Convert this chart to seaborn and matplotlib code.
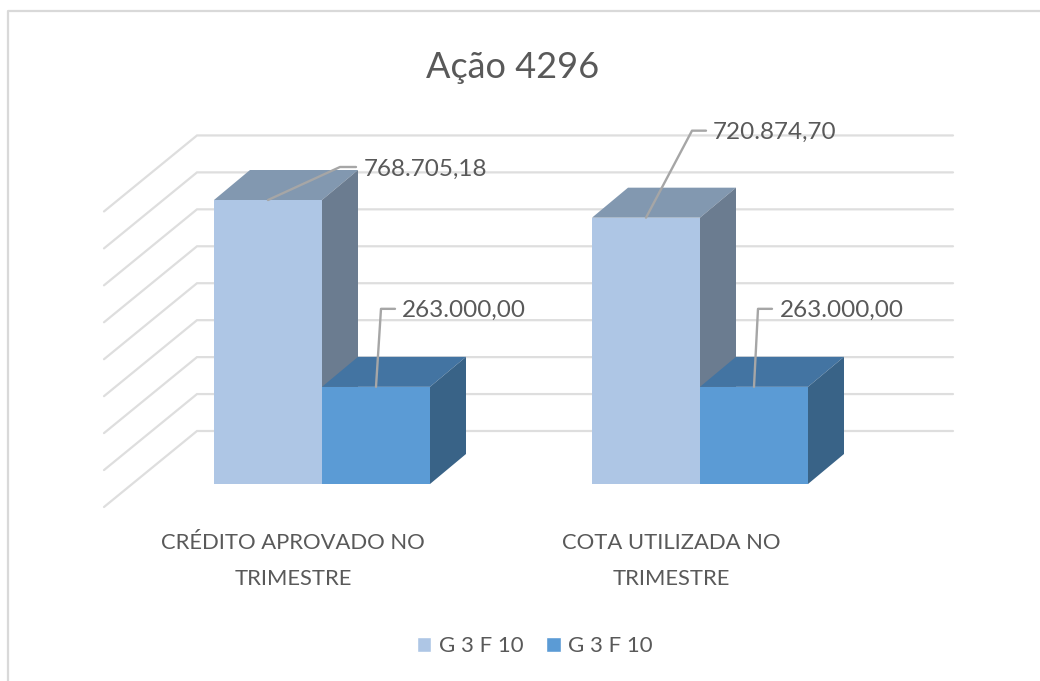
import matplotlib
matplotlib.use('Agg')
import matplotlib.pyplot as plt
from matplotlib.lines import Line2D
from matplotlib.patches import Polygon, Patch
import pandas as pd
import seaborn as sns

categories = ['CRÉDITO APROVADO NO\nTRIMESTRE', 'COTA UTILIZADA NO\nTRIMESTRE']
serie_a = [768705.18, 720874.70]
serie_b = [263000.00, 263000.00]
serie_label = 'G 3 F 10'
grid_values = [0, 100000, 200000, 300000, 400000, 500000, 600000, 700000, 800000]

W, H = 1040, 681
TEXT = '#595959'
GRID = '#dedede'

sns.set_theme(style='white')
plt.rcParams['font.family'] = ['Lato', 'DejaVu Sans']

df = pd.DataFrame({
    'categoria': categories * 2,
    'valor': serie_a + serie_b,
    'serie': ['a', 'a', 'b', 'b'],
})

fig = plt.figure(figsize=(W / 100, H / 100), dpi=100)

# axes: x 104..953 px, value 0 at y=484 px
left, right, top, bottom = 104, 953, 100, 484
ax = fig.add_axes([left / W, 1 - bottom / H, (right - left) / W, (bottom - top) / H])

sns.barplot(data=df, x='categoria', y='valor', hue='serie',
            palette=['#aec6e5', '#5b9bd5'], saturation=1,
            width=216 / 378, gap=0, linewidth=0, legend=False,
            zorder=4, ax=ax)

# pixel sizes converted to data units
px_x = 1 / 378
px_y = 768705.18 / 284
ax.set_xlim((left - 322) * px_x, (right - 322) * px_x)
ax.set_ylim(0, (bottom - top) * px_y)

# back wall and side wall grid
for v in grid_values:
    y = v + 53 * px_y
    x0 = (197 - 322) * px_x
    ax.plot([(104 - 322) * px_x, x0, (right - 322) * px_x],
            [y - 76 * px_y, y, y], color=GRID, lw=1.6, zorder=1,
            clip_on=False, solid_joinstyle='miter')

# 3d faces of each bar
depth_x, depth_y = 36 * px_x, 30 * px_y
shades = [('#8298b0', '#6b7c90'), ('#4374a2', '#396387')]
for container, (top_c, side_c) in zip(ax.containers, shades):
    for bar in container:
        x0, x1 = bar.get_x(), bar.get_x() + bar.get_width()
        h = bar.get_height()
        ax.add_patch(Polygon([(x0, h), (x1, h), (x1 + depth_x, h + depth_y), (x0 + depth_x, h + depth_y)],
                             facecolor=top_c, edgecolor='none', zorder=3, clip_on=False))
        ax.add_patch(Polygon([(x1, 0), (x1 + depth_x, depth_y), (x1 + depth_x, h + depth_y), (x1, h)],
                             facecolor=side_c, edgecolor='none', zorder=3, clip_on=False))

# data labels with leader lines: elbow dx, elbow dy, end dx, text dx (px from bar top centre)
leaders = [[(72, 33, 88, 96), (46, 87, 60, 67)],
           [(5, 78, 19, 26), (4, 78, 18, 26)]]
for container, offs in zip(ax.containers, leaders):
    for bar, (ex, ey, tx, lx) in zip(container, offs):
        cx = bar.get_x() + bar.get_width() / 2
        h = bar.get_height()
        ax.plot([cx, cx + ex * px_x, cx + tx * px_x],
                [h, h + ey * px_y, h + ey * px_y],
                color='#a6a6a6', lw=1.7, zorder=5, clip_on=False)
        label = f'{h:,.2f}'.replace(',', 'X').replace('.', ',').replace('X', '.')
        ax.text(cx + lx * px_x, h + (ey - 2) * px_y, label, color=TEXT, fontsize=17.5,
                va='center', ha='left', zorder=6, clip_on=False)

ax.set_xticks([-29 * px_x, 1 - 29 * px_x])
ax.set_xticklabels(categories, fontsize=15.8, color=TEXT, linespacing=1.95)
ax.tick_params(axis='x', length=0, pad=35.5)
ax.set_yticks([])
ax.set_xlabel('')
ax.set_ylabel('')
sns.despine(ax=ax, left=True, bottom=True)
ax.patch.set_alpha(0)

fig.text(513 / W, 1 - 68 / H, 'Ação 4296', fontsize=26, color=TEXT, ha='center', va='center')

handles = [Patch(facecolor='#aec6e5'), Patch(facecolor='#5b9bd5')]
fig.legend(handles, [serie_label, serie_label], loc='center', bbox_to_anchor=(535 / W, 1 - 646 / H),
           ncol=2, frameon=False, fontsize=16, labelcolor=TEXT, handlelength=0.65, handleheight=0.65,
           handletextpad=0.35, columnspacing=1.0)

# chart frame, cut off on the right and bottom
fig.add_artist(Line2D([8 / W, 8 / W, 1], [0, 1 - 11 / H, 1 - 11 / H], color='#d9d9d9', lw=1.6))

fig.savefig('out.png', dpi=100)
